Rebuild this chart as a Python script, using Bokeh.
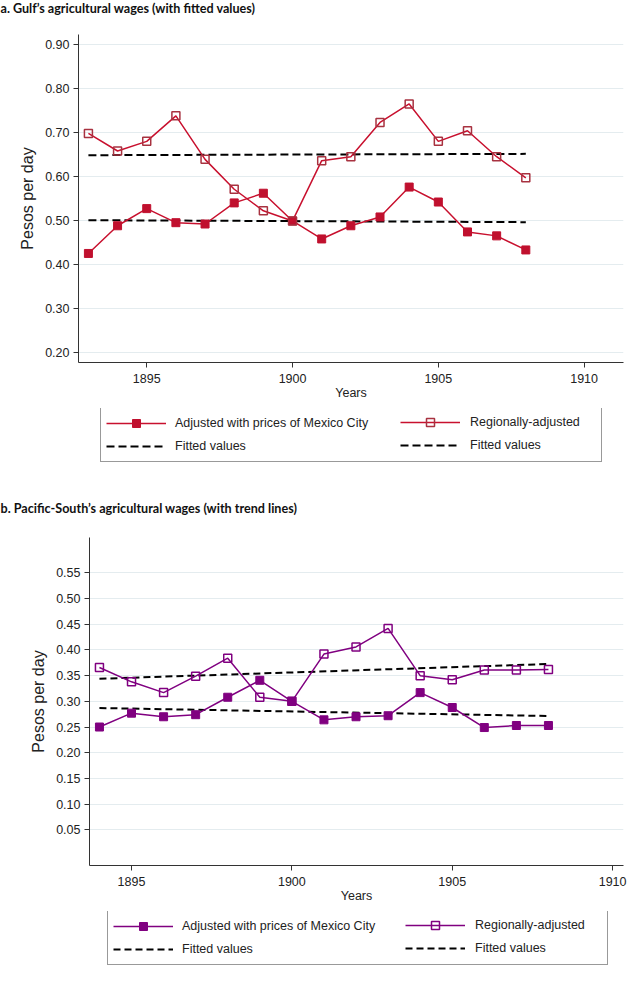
from bokeh.plotting import figure
from bokeh.models import (ColumnDataSource, FixedTicker, PrintfTickFormatter, Range1d,
                          Legend, LegendItem, Title)
from bokeh.layouts import column, row
from bokeh.embed import file_html
from bokeh.resources import INLINE

# ---------------- data ----------------
years_a = [1893, 1894, 1895, 1896, 1897, 1898, 1899, 1900, 1901, 1902, 1903, 1904, 1905, 1906, 1907, 1908]
gulf_mexico = [0.425, 0.488, 0.527, 0.495, 0.492, 0.540, 0.562, 0.499, 0.458, 0.488, 0.508, 0.576, 0.542, 0.474, 0.465, 0.433]
gulf_regional = [0.698, 0.658, 0.680, 0.738, 0.639, 0.571, 0.522, 0.499, 0.636, 0.645, 0.723, 0.765, 0.680, 0.704, 0.645, 0.597]
fit_years_a = [1893, 1908]
fit_gulf_mexico = [0.5007, 0.4962]
fit_gulf_regional = [0.6485, 0.6515]

years_b = [1894, 1895, 1896, 1897, 1898, 1899, 1900, 1901, 1902, 1903, 1904, 1905, 1906, 1907, 1908]
pac_mexico = [0.250, 0.277, 0.270, 0.274, 0.308, 0.341, 0.300, 0.264, 0.270, 0.272, 0.317, 0.288, 0.249, 0.253, 0.253]
pac_regional = [0.366, 0.338, 0.317, 0.349, 0.384, 0.308, 0.300, 0.392, 0.406, 0.442, 0.350, 0.342, 0.361, 0.361, 0.362]
fit_years_b = [1894, 1908]
fit_pac_mexico = [0.287, 0.2714]
fit_pac_regional = [0.344, 0.3727]

x_ticks = [1895, 1900, 1905, 1910]
y_ticks_a = [0.20, 0.30, 0.40, 0.50, 0.60, 0.70, 0.80, 0.90]
y_ticks_b = [0.05, 0.10, 0.15, 0.20, 0.25, 0.30, 0.35, 0.40, 0.45, 0.50, 0.55]

title_a = "a. Gulf\u2019s agricultural wages (with fitted values)"
title_b = "b.  Pacific-South\u2019s agricultural wages (with trend lines)"
lab_mex = "Adjusted with prices of Mexico City"
lab_reg = "Regionally-adjusted"
lab_fit = "Fitted values"

FONT = "Liberation Sans"
FONT_T = "Lato"
GRID = "#e4ecef"
AXIS = "#333333"
W = 632
BL = 78          # common left border
BR = 9           # common right border


def blank_fig(height, bt=0, bb=0):
    f = figure(width=W, height=height, output_backend="svg", toolbar_location=None,
               x_range=Range1d(0, 1), y_range=Range1d(0, 1),
               x_axis_type=None, y_axis_type=None,
               min_border_left=BL, min_border_right=BR, min_border_top=bt, min_border_bottom=bb)
    f.grid.visible = False
    f.outline_line_color = None
    f.background_fill_color = "white"
    f.border_fill_color = "white"
    return f


def title_fig(text, height):
    f = blank_fig(height)
    f.title = Title(text=text, align="left", offset=-BL, standoff=0, vertical_align="top",
                    text_font=FONT_T, text_font_style="bold", text_font_size="12.6px",
                    text_color="#111111")
    return f


def series(fig, src, fsrc, line_col, mex_col, reg_col, dash):
    r_fm = fig.line("x", "fm", source=fsrc, line_color="black", line_width=2, line_dash=dash)
    r_fr = fig.line("x", "fr", source=fsrc, line_color="black", line_width=2, line_dash=dash)
    r_ml = fig.line("x", "mex", source=src, line_color=line_col, line_width=1.5)
    r_mm = fig.scatter("x", "mex", source=src, marker="square", size=8,
                       fill_color=mex_col, line_color=mex_col)
    r_rl = fig.line("x", "reg", source=src, line_color=line_col, line_width=1.5)
    r_rm = fig.scatter("x", "reg", source=src, marker="square", size=8,
                       fill_color=None, line_color=reg_col, line_width=1.5)
    return r_fm, r_fr, r_ml, r_mm, r_rl, r_rm


def main_fig(src, fsrc, yticks, xr, yr, height, bl, bt, bb, line_col, mex_col, reg_col, dash):
    p = figure(width=W, height=height, output_backend="svg", toolbar_location=None,
               x_range=Range1d(*xr), y_range=Range1d(*yr),
               min_border_left=bl, min_border_right=BR, min_border_top=bt,
               min_border_bottom=bb)
    p.outline_line_color = None
    p.background_fill_color = "white"
    p.border_fill_color = "white"

    p.xaxis.ticker = FixedTicker(ticks=x_ticks)
    p.yaxis.ticker = FixedTicker(ticks=yticks)
    p.yaxis.formatter = PrintfTickFormatter(format="%.2f")
    for ax in (p.xaxis[0], p.yaxis[0]):
        ax.axis_line_color = AXIS
        ax.major_tick_line_color = AXIS
        ax.minor_tick_line_color = None
        ax.major_tick_in = 0
        ax.major_tick_out = 5
        ax.major_label_text_font = FONT
        ax.major_label_text_font_size = "12.5px"
        ax.major_label_text_color = "#222222"
        ax.axis_label_text_font = FONT
        ax.axis_label_text_font_style = "normal"
        ax.axis_label_text_color = "#222222"
    p.xaxis.axis_label = "Years"
    p.xaxis.axis_label_text_font_size = "12.5px"
    p.xaxis.major_label_standoff = 6
    p.xaxis.axis_label_standoff = 0
    p.yaxis.axis_label = "Pesos per day"
    p.yaxis.axis_label_text_font_size = "16px"
    p.yaxis.major_label_standoff = 4
    p.yaxis.axis_label_standoff = 6

    p.xgrid.grid_line_color = None
    p.ygrid.grid_line_color = GRID
    p.ygrid.grid_line_width = 1

    series(p, src, fsrc, line_col, mex_col, reg_col, dash)
    return p


def legend_fig(src, fsrc, height, x1, x2, y1, y2, lw1, line_col, mex_col, reg_col, dash):
    # the series are drawn again here only to feed the legend; they fall outside this frame
    f = blank_fig(height)
    r_fm, r_fr, r_ml, r_mm, r_rl, r_rm = series(f, src, fsrc, line_col, mex_col, reg_col, dash)
    common = dict(padding=5, margin=0, spacing=3, glyph_width=60, glyph_height=20,
                  label_height=20, label_text_font=FONT, label_text_font_size="12.5px",
                  label_text_color="#222222")
    leg1 = Legend(items=[LegendItem(label=lab_mex, renderers=[r_ml, r_mm]),
                         LegendItem(label=lab_fit, renderers=[r_fm])],
                  location=(x1, y1), label_standoff=9, label_width=lw1,
                  border_line_color=AXIS, border_line_width=1,
                  background_fill_color="white", background_fill_alpha=1.0, **common)
    leg2 = Legend(items=[LegendItem(label=lab_reg, renderers=[r_rl, r_rm]),
                         LegendItem(label=lab_fit, renderers=[r_fr])],
                  location=(x2, y2), label_standoff=10,
                  border_line_color=None, background_fill_alpha=0.0, **common)
    f.add_layout(leg1, "center")
    f.add_layout(leg2, "center")
    return f


src_a = ColumnDataSource(dict(x=years_a, mex=gulf_mexico, reg=gulf_regional))
fsrc_a = ColumnDataSource(dict(x=fit_years_a, fm=fit_gulf_mexico, fr=fit_gulf_regional))
src_b = ColumnDataSource(dict(x=years_b, mex=pac_mexico, reg=pac_regional))
fsrc_b = ColumnDataSource(dict(x=fit_years_b, fm=fit_pac_mexico, fr=fit_pac_regional))

RED, RED_M, RED_O = "#c8102e", "#c0102e", "#a83240"
PUR = "#800080"

ta = title_fig(title_a, 20)
pa = main_fig(src_a, fsrc_a, y_ticks_a, (1892.66, 1911.35), (0.177, 0.923),
              388, BL, 14, 46, RED, RED_M, RED_O, "8 4")
la = legend_fig(src_a, fsrc_a, 92, 22, 322, 38, 45, 421, RED, RED_M, RED_O, "8 4")

tb = title_fig(title_b, 20)
pb = main_fig(src_b, fsrc_b, y_ticks_b, (1893.69, 1910.34), (-0.0196, 0.619),
              391, 89, 17, 46, PUR, PUR, PUR, "7 4")
lb = legend_fig(src_b, fsrc_b, 64, 29, 327, 10, 17, 420, PUR, PUR, PUR, "7 4")

layout = column(ta, pa, la, tb, row(pb), lb, spacing=0)
open("out.html", "w").write(file_html(layout, INLINE))
